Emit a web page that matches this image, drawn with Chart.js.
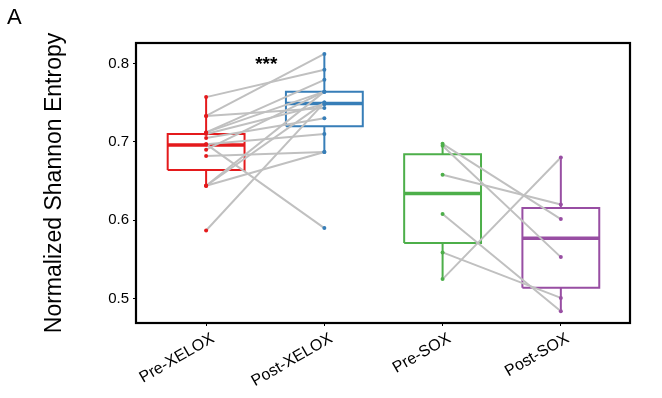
<!DOCTYPE html>
<html>
<head>
<meta charset="utf-8">
<script src="https://cdn.jsdelivr.net/npm/chart.js@4.4.1/dist/chart.umd.min.js"></script>
<style>
html,body{margin:0;padding:0;background:#fff;}
canvas{display:block;}
</style>
</head>
<body>
<canvas id="c" width="662" height="398"></canvas>
<script>
// ---- data ----
const categories = ['Pre-XELOX', 'Post-XELOX', 'Pre-SOX', 'Post-SOX'];
const groupColors = ['#e41a1c', '#377eb8', '#4daf4a', '#984ea3'];
const yTicks = [0.5, 0.6, 0.7, 0.8];

const xeloxPre  = [0.757, 0.733, 0.733, 0.712, 0.712, 0.710, 0.697, 0.697, 0.705, 0.690, 0.682, 0.644, 0.644, 0.644, 0.587];
const xeloxPost = [0.792, 0.812, 0.743, 0.779, 0.764, 0.748, 0.710, 0.590, 0.730, 0.764, 0.687, 0.764, 0.750, 0.687, 0.750];
const soxPre  = [0.6975, 0.695, 0.658, 0.608, 0.559, 0.525];
const soxPost = [0.6015, 0.553, 0.620, 0.484, 0.501, 0.680];

const boxQ1      = [0.664, 0.720, 0.571, 0.514];
const boxMedian  = [0.696, 0.749, 0.634, 0.577];
const boxQ3      = [0.710, 0.764, 0.684, 0.6155];
const whiskerLow = [0.644, 0.687, 0.525, 0.484];
const whiskerHigh= [0.757, 0.812, 0.6975, 0.680];

const significance = '***';

// ---- build datasets ----
const halfW = 0.325;
const datasets = [];

categories.forEach((cat, i) => {
  const c = groupColors[i];
  datasets.push({
    type: 'line', order: 5, borderColor: c, borderWidth: 2, pointRadius: 0, fill: false,
    data: [
      {x: i - halfW, y: boxQ1[i]}, {x: i + halfW, y: boxQ1[i]},
      {x: i + halfW, y: boxQ3[i]}, {x: i - halfW, y: boxQ3[i]},
      {x: i - halfW, y: boxQ1[i]}
    ]
  });
  datasets.push({
    type: 'line', order: 5, borderColor: c, borderWidth: 3.5, pointRadius: 0,
    data: [{x: i - halfW, y: boxMedian[i]}, {x: i + halfW, y: boxMedian[i]}]
  });
  datasets.push({
    type: 'line', order: 5, borderColor: c, borderWidth: 2, pointRadius: 0,
    data: [{x: i, y: boxQ3[i]}, {x: i, y: whiskerHigh[i]}]
  });
  datasets.push({
    type: 'line', order: 5, borderColor: c, borderWidth: 2, pointRadius: 0,
    data: [{x: i, y: boxQ1[i]}, {x: i, y: whiskerLow[i]}]
  });
});

function addPairs(pre, post, xi) {
  pre.forEach((v, k) => {
    datasets.push({
      type: 'line', order: 3, borderColor: '#c0c0c0', borderWidth: 2, pointRadius: 0,
      data: [{x: xi, y: v}, {x: xi + 1, y: post[k]}]
    });
  });
}
addPairs(xeloxPre, xeloxPost, 0);
addPairs(soxPre, soxPost, 2);

[[xeloxPre, 0], [xeloxPost, 1], [soxPre, 2], [soxPost, 3]].forEach(([arr, xi]) => {
  datasets.push({
    type: 'scatter', order: 1, showLine: false,
    pointRadius: 2, pointBackgroundColor: groupColors[xi], pointBorderWidth: 0,
    data: arr.map(v => ({x: xi, y: v}))
  });
});

const FONT = '"Liberation Sans", Arial, sans-serif';

const framePlugin = {
  id: 'frame',
  afterDraw(chart) {
    const {ctx, chartArea: a, scales} = chart;
    ctx.save();
    ctx.strokeStyle = '#000';
    ctx.lineWidth = 2.2;
    ctx.strokeRect(a.left, a.top, a.right - a.left, a.bottom - a.top);
    ctx.fillStyle = '#000';
    ctx.font = 'bold 19px ' + FONT;
    ctx.textAlign = 'center';
    ctx.textBaseline = 'alphabetic';
    const sx = (scales.x.getPixelForValue(0) + scales.x.getPixelForValue(1)) / 2 + 1;
    ctx.fillText(significance, sx, scales.y.getPixelForValue(0.8) + 7);
    ctx.font = '22px ' + FONT;
    ctx.textAlign = 'left';
    ctx.fillText('A', 7, 24);
    ctx.restore();
  }
};

new Chart(document.getElementById('c'), {
  type: 'scatter',
  data: { datasets },
  options: {
    responsive: false,
    animation: false,
    devicePixelRatio: 1,
    layout: { padding: { left: 37, top: 43, right: 32, bottom: 0 } },
    plugins: { legend: { display: false }, tooltip: { enabled: false } },
    scales: {
      x: {
        type: 'linear', min: -0.593, max: 3.585,
        afterBuildTicks: s => { s.ticks = categories.map((_, i) => ({value: i})); },
        afterFit: s => { s.height = 75; },
        grid: { display: true, drawOnChartArea: false, drawTicks: true, tickLength: 3, color: '#000', lineWidth: 1 },
        border: { display: false },
        ticks: {
          autoSkip: false, minRotation: 30, maxRotation: 30, padding: 3, labelOffset: 7,
          color: '#000',
          font: { family: FONT, size: 16 },
          callback: v => categories[Math.round(v)]
        }
      },
      y: {
        type: 'linear', min: 0.469, max: 0.826,
        afterBuildTicks: s => { s.ticks = yTicks.map(v => ({value: v})); },
        afterFit: s => { s.width = 99; },
        grid: { display: true, drawOnChartArea: false, drawTicks: true, tickLength: 3, color: '#000', lineWidth: 1 },
        border: { display: false },
        title: {
          display: true, text: 'Normalized Shannon Entropy', color: '#000',
          font: { family: FONT, size: 23 }
        },
        ticks: {
          padding: 4, color: '#000',
          font: { family: FONT, size: 15 },
          callback: v => v.toFixed(1)
        }
      }
    }
  },
  plugins: [framePlugin]
});
</script>
</body>
</html>
